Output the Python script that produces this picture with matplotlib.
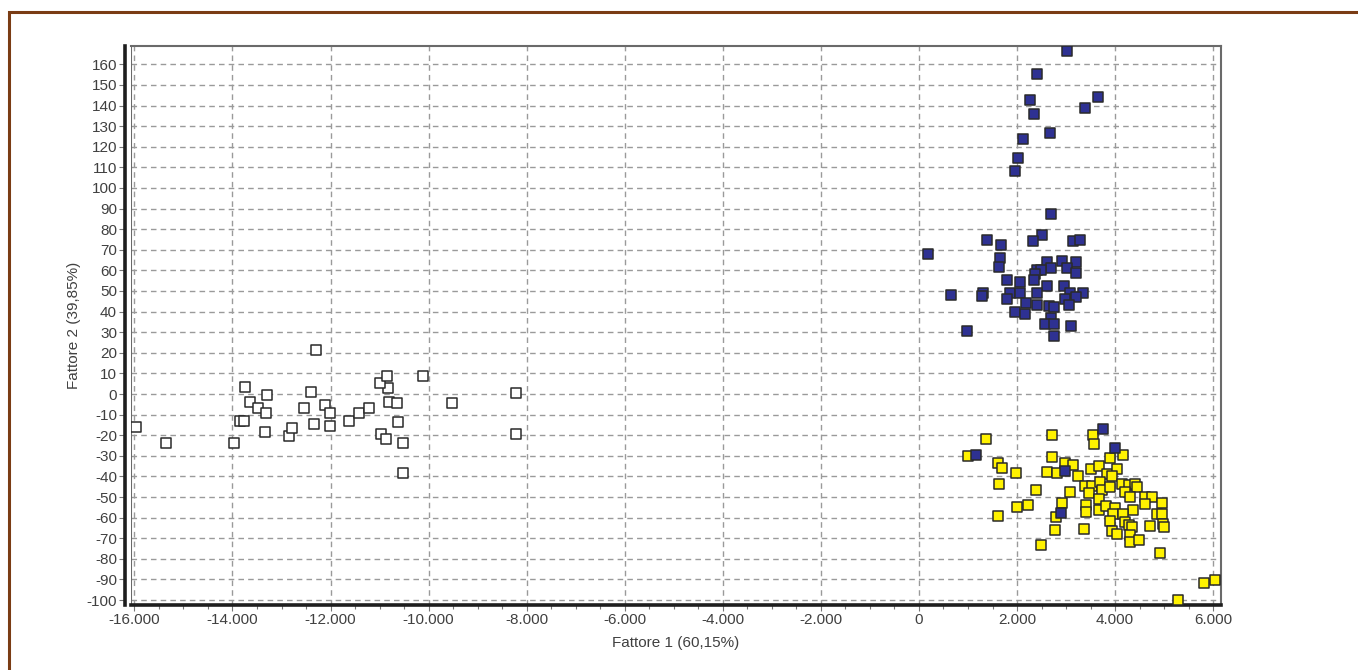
import matplotlib
matplotlib.use("Agg")
import matplotlib.pyplot as plt
from matplotlib.patches import Rectangle
from matplotlib.ticker import MultipleLocator, FuncFormatter

# --- Data (scores on factor 1 / factor 2) ---
white_x = [-15958, -15346, -13960, -13736, -13634, -13478, -13295, -13308, -13852, -13756,
           -13335, -12854, -12785, -12548, -12405, -12330, -12120, -12018, -12018, -11617,
           -11419, -11223, -10979, -10876, -10836, -10815, -10652, -10624, -10516, -10516,
           -9524, -8213, -8219, -12289, -10985, -10848, -10108]
white_y = [-16.0, -23.8, -23.8, 3.5, -3.7, -6.8, -0.5, -9.4, -12.9, -12.9,
           -18.4, -20.5, -16.3, -6.6, 1.1, -14.6, -5.5, -9.0, -15.4, -13.3,
           -9.0, -6.8, -19.4, -21.6, 2.9, -3.7, -4.2, -13.6, -23.8, -38.2,
           -4.2, 0.3, -19.4, 21.5, 5.5, 8.9, 8.8]

blue_x = [3010, 2405, 2255, 3648, 3383, 2350, 2676, 2127, 2018, 1963,
          2684, 2513, 2317, 1392, 1671, 3132, 3275, 183, 1657, 1624,
          2615, 2914, 3200, 2697, 3016, 3200, 2399, 2480, 2358, 2338,
          1793, 2065, 2609, 2962, 645, 1298, 1291, 1861, 2065, 2411,
          3071, 3336, 3193, 2982, 1793, 2181, 2405, 2656, 2758, 3051,
          1950, 2166, 2684, 2568, 2751, 3104, 972, 2745, 3756, 1162,
          4001, 2976, 2888]
blue_y = [166.3, 155.4, 142.8, 144.3, 138.9, 135.7, 126.7, 123.6, 114.4, 108.4,
          87.2, 77.2, 74.4, 74.9, 72.5, 74.1, 74.9, 67.8, 66.0, 61.6,
          64.0, 64.7, 64.2, 61.1, 61.3, 58.9, 60.3, 60.1, 58.2, 55.2,
          55.3, 54.3, 52.4, 52.2, 48.0, 49.0, 47.4, 48.9, 48.9, 49.0,
          48.9, 49.2, 47.3, 46.2, 46.2, 44.4, 43.1, 42.9, 42.4, 43.1,
          39.9, 38.8, 36.9, 34.0, 34.0, 33.0, 30.4, 28.1, -17.1, -29.6,
          -26.2, -37.4, -57.6]

yellow_x = [1365, 1005, 2717, 3540, 3560, 1603, 1692, 1970, 1630, 2711,
            2976, 3139, 2609, 2806, 3240, 3512, 3668, 3893, 3845, 2391,
            3071, 3383, 3532, 3458, 3689, 3723, 3906, 3668, 1997, 2221,
            2921, 3403, 3397, 3662, 3805, 1603, 2799, 2778, 3376, 2493,
            4158, 4035, 3933, 4131, 4286, 4416, 4443, 4198, 4294, 4606,
            4755, 4620, 4952, 3995, 4361, 3961, 4158, 4864, 4966, 3906,
            4198, 4280, 4355, 4722, 4979, 4993, 3941, 4042, 4294, 4294,
            4490, 4918, 5808, 6039, 5285]
yellow_y = [-21.8, -30.3, -20.1, -20.1, -24.1, -33.3, -35.7, -38.3, -43.7, -30.4,
            -33.6, -34.6, -37.7, -38.2, -39.7, -36.6, -35.1, -31.2, -39.0, -46.7,
            -47.7, -44.8, -44.8, -47.9, -42.6, -46.7, -45.0, -50.8, -54.7, -53.9,
            -52.8, -53.9, -57.1, -56.4, -54.4, -59.1, -59.6, -66.0, -65.7, -73.5,
            -29.5, -36.4, -39.7, -43.7, -44.0, -43.7, -45.3, -47.6, -50.1, -50.0,
            -50.0, -53.5, -52.9, -55.2, -56.2, -58.3, -58.3, -58.4, -58.4, -61.5,
            -62.3, -63.6, -64.4, -63.9, -63.1, -64.7, -66.7, -67.7, -68.2, -71.7,
            -71.0, -77.3, -91.6, -90.1, -100.1]

x_label = "Fattore 1 (60,15%)"
y_label = "Fattore 2 (39,85%)"

plt.rcParams['font.family'] = ['Liberation Sans', 'DejaVu Sans']
txt_color = "#404040"

fig = plt.figure(figsize=(13.58, 6.70), dpi=100)

# --- brown outer frame (only top and left edges fall inside the picture) ---
fig.patches.append(Rectangle((9 / 1358, -0.1), 1.2, 1.1 - 12 / 670,
                             transform=fig.transFigure, fill=False,
                             edgecolor="#7a3c14", linewidth=2.2))

ax = fig.add_axes([131 / 1358, 1 - 605 / 670, 1090 / 1358, 559 / 670])

# --- scatter groups ---
mk = dict(marker="s", s=58, linewidths=1.1, zorder=3)
ax.scatter(white_x, white_y, facecolor="white", edgecolor="#2a2a2a", **mk)
ax.scatter(yellow_x, yellow_y, facecolor="#fff200", edgecolor="#2a2a2a", **mk)
ax.scatter(blue_x, blue_y, facecolor="#2e3192", edgecolor="#2a2a2a", **mk)

ax.set_xlim(-16070, 6160)
ax.set_ylim(-102.4, 168.9)

# --- ticks ---
ax.xaxis.set_major_locator(MultipleLocator(2000))
ax.xaxis.set_minor_locator(MultipleLocator(500))
ax.yaxis.set_major_locator(MultipleLocator(10))
ax.xaxis.set_major_formatter(FuncFormatter(lambda v, p: f"{v:,.0f}".replace(",", ".")))
ax.yaxis.set_major_formatter(FuncFormatter(lambda v, p: f"{v:.0f}"))
ax.tick_params(axis="both", which="major", length=4, width=0.8, color="#777777",
               labelsize=11, labelcolor=txt_color, pad=2)
ax.tick_params(axis="x", which="minor", length=3, width=0.8, color="#777777")

ax.grid(True, which="major", linestyle=(0, (4, 3)), color="#9a9a9a", linewidth=1.0)
ax.set_axisbelow(True)

# --- spines ---
for side in ["top", "right"]:
    ax.spines[side].set_color("#6a6a6a")
    ax.spines[side].set_linewidth(1.5)
ax.spines["left"].set_position(("outward", 4))
ax.spines["left"].set_color("#1e1e1e")
ax.spines["left"].set_linewidth(2.6)
ax.spines["bottom"].set_color("#1e1e1e")
ax.spines["bottom"].set_linewidth(2.6)
# thin gray plot-area edge on the left
ax.axvline(-16070, color="#6a6a6a", linewidth=1.5, zorder=2)

ax.set_xlabel(x_label, fontsize=11, color=txt_color, labelpad=6)
ax.set_ylabel(y_label, fontsize=11, color=txt_color, labelpad=4)

fig.savefig("out.png", dpi=100)
